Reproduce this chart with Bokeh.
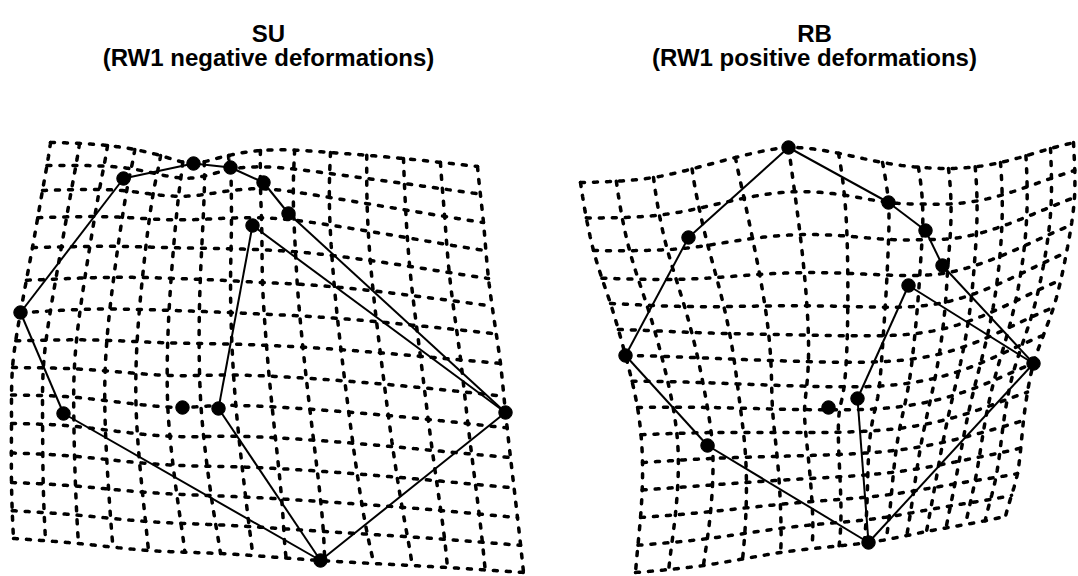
import numpy as np
from bokeh.plotting import figure
from bokeh.models import Range1d
from bokeh.embed import file_html
from bokeh.resources import INLINE
from bokeh.core.properties import value

N_CELLS = 14  # grid cells per side (15 x 15 grid lines)

# ---------------- SU panel (RW1 negative deformations) ----------------
su_title = ["SU", "(RW1 negative deformations)"]
# landmark positions (picture coordinates, y downward)
su_land_x = [20, 123, 193, 230, 263, 288, 505, 320, 63, 252, 218, 182]
su_land_y = [312, 178, 163, 167, 182, 213, 412, 560, 413, 225, 408, 407]
# landmark positions in the undeformed grid (column, row)
su_land_i = [0, 2.8, 5.5, 7.0, 8.1, 8.85, 14, 8.9, 1.67, 7.7, 6.5, 5.45]
su_land_j = [6, 1.5, 0.0, 0.9, 1.75, 2.8, 8.5, 14, 9.6, 3.25, 9.1, 9.0]
# grid border nodes
su_node_i = [0, 2, 4, 7, 8, 10, 12, 14,   0, 0, 0, 0, 0, 0,   2, 4, 6, 10, 12, 14,   14, 14, 14, 14, 14,   4, 8]
su_node_j = [0, 0, 0, 0, 0, 0, 0, 0,      2, 4, 8, 10, 12, 14, 14, 14, 14, 14, 14, 14, 2, 4, 7, 10, 12,    5, 5]
su_node_x = [50, 107, 160, 228, 260, 330, 403, 477, 42, 32, 12, 11, 11, 13, 78, 148, 220, 373, 447, 523, 483, 488, 500, 510, 517, 142, 262]
su_node_y = [142, 145, 155, 155, 150, 152, 158, 166, 190, 247, 367, 423, 482, 538, 543, 550, 553, 563, 567, 572, 222, 278, 363, 457, 517, 277, 282]

# ---------------- RB panel (RW1 positive deformations) ----------------
rb_title = ["RB", "(RW1 positive deformations)"]
rb_land_x = [625, 688, 788, 888, 925, 942, 1033, 868, 707, 908, 857, 828]
rb_land_y = [355, 237, 147, 202, 230, 265, 363, 542, 445, 285, 398, 407]
rb_land_i = [0, 2.6, 5.0, 7.0, 8.1, 8.8, 14, 7.2, 1.85, 7.65, 6.4, 5.7]
rb_land_j = [6, 1.7, 0.0, 1.0, 1.75, 2.75, 8, 14, 9.5, 3.3, 7.5, 7.9]
rb_node_i = [0, 2, 4, 7, 9, 11, 13, 14,   0, 0, 0, 0, 0, 0,   2, 4, 10, 12, 14,   14, 14, 14, 14, 14]
rb_node_j = [0, 0, 0, 0, 0, 0, 0, 0,      2, 4, 8, 10, 12, 14, 14, 14, 14, 14, 14, 2, 4, 6, 10, 12]
rb_node_x = [580, 653, 735, 882, 948, 1000, 1050, 1073, 593, 610, 637, 642, 640, 635, 703, 780, 926, 965, 1005, 1074, 1066, 1053, 1023, 1017]
rb_node_y = [182, 177, 157, 162, 168, 162, 148, 142, 250, 303, 407, 462, 517, 572, 565, 552, 531, 524, 516, 197, 252, 307, 420, 473]

# outline connections between landmarks (same for both panels)
edges_from = [0, 1, 2, 3, 4, 5, 6, 7, 8, 9, 10, 9]
edges_to = [1, 2, 3, 4, 5, 6, 7, 8, 0, 10, 7, 6]


def _U(r):
    with np.errstate(divide="ignore", invalid="ignore"):
        out = r * r * np.log(r)
    out[~np.isfinite(out)] = 0.0
    return out


def tps_fit(src, dst):
    n = len(src)
    d = np.linalg.norm(src[:, None, :] - src[None, :, :], axis=2)
    A = np.zeros((n + 3, n + 3))
    A[:n, :n] = _U(d)
    P = np.hstack([np.ones((n, 1)), src])
    A[:n, n:] = P
    A[n:, :n] = P.T
    b = np.zeros((n + 3, 2))
    b[:n] = dst
    coef = np.linalg.solve(A, b)
    return src, coef


def tps_apply(model, pts):
    src, coef = model
    n = len(src)
    d = np.linalg.norm(pts[:, None, :] - src[None, :, :], axis=2)
    return _U(d) @ coef[:n] + coef[n] + pts @ coef[n + 1:]


def grid_lines(li, lj, lx, ly, ni, nj, nx, ny):
    src = np.array(list(zip(li + ni, lj + nj)), dtype=float)
    dst = np.array(list(zip(lx + nx, ly + ny)), dtype=float)
    model = tps_fit(src, dst)
    t = np.linspace(0, N_CELLS, 281)
    xs, ys = [], []
    for k in range(N_CELLS + 1):
        row = np.column_stack([t, np.full_like(t, k)])
        col = np.column_stack([np.full_like(t, k), t])
        for pts in (row, col):
            m = tps_apply(model, pts)
            xs.append(m[:, 0].tolist())
            ys.append(m[:, 1].tolist())
    return xs, ys


p = figure(width=1078, height=576, x_range=Range1d(0, 1078), y_range=Range1d(576, 0),
           x_axis_type=None, y_axis_type=None, toolbar_location=None,
           output_backend="svg", min_border=0)
p.xgrid.visible = False
p.ygrid.visible = False
p.outline_line_color = None
p.background_fill_color = "white"

panels = [
    (su_land_x, su_land_y, su_land_i, su_land_j, su_node_i, su_node_j, su_node_x, su_node_y, su_title, 268),
    (rb_land_x, rb_land_y, rb_land_i, rb_land_j, rb_node_i, rb_node_j, rb_node_x, rb_node_y, rb_title, 814),
]

for lx, ly, li, lj, ni, nj, nx, ny, title, cx in panels:
    xs, ys = grid_lines(li, lj, lx, ly, ni, nj, nx, ny)
    p.multi_line(xs, ys, line_color="black", line_width=3.5, line_dash="4 9", line_cap="round")
    p.segment(x0=[lx[a] for a in edges_from], y0=[ly[a] for a in edges_from],
              x1=[lx[b] for b in edges_to], y1=[ly[b] for b in edges_to],
              line_color="black", line_width=2)
    p.scatter(lx, ly, size=13.5, marker="circle", fill_color="black", line_color="black")
    p.text(x=[cx, cx], y=[33, 57], text=title, text_align="center", text_baseline="alphabetic",
           text_font=value("Liberation Sans"), text_font_style="bold", text_font_size="24px",
           text_color="black")

open("out.html", "w").write(file_html(p, INLINE))
